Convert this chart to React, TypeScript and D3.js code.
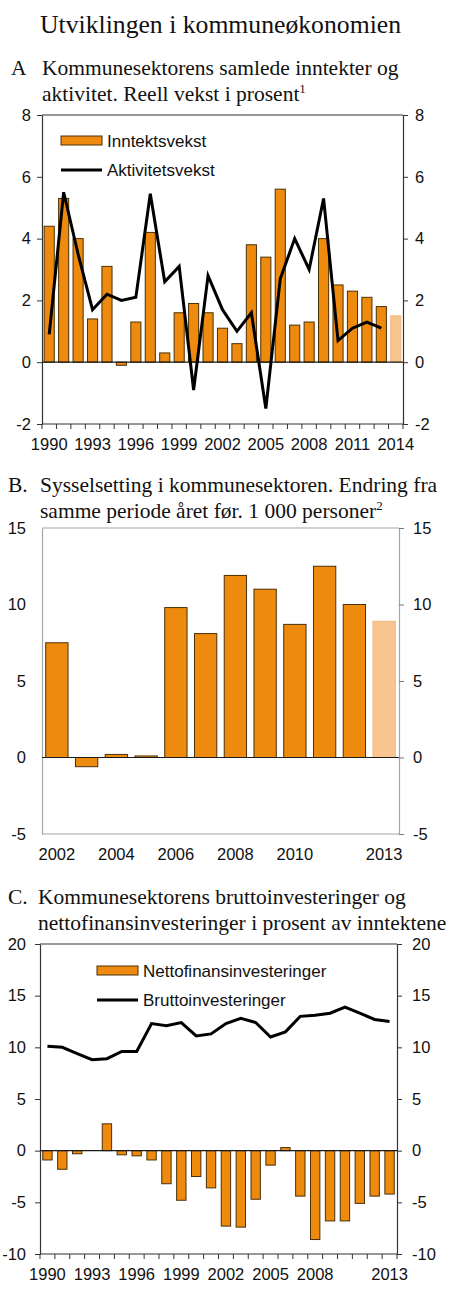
import { useEffect, useRef } from 'react'
import * as d3 from 'd3'

const SERIF = '"Liberation Serif", "Times New Roman", serif'
const SANS = '"Liberation Sans", Arial, sans-serif'
const ORANGE = '#ee8a0e'
const LIGHT = '#f8c48f'
const LIGHT_EDGE = '#f4b67a'
const EDGE = '#4a3108'
const AXIS = '#333333'
const GRAY = '#a6a6a6'

// A: income growth (bars) and activity growth (line), real growth in per cent
const yearsA = [1990, 1991, 1992, 1993, 1994, 1995, 1996, 1997, 1998, 1999, 2000, 2001, 2002,
  2003, 2004, 2005, 2006, 2007, 2008, 2009, 2010, 2011, 2012, 2013, 2014]
const incomeGrowth = [4.4, 5.3, 4.0, 1.4, 3.1, -0.1, 1.3, 4.2, 0.3, 1.6, 1.9, 1.6, 1.1,
  0.6, 3.8, 3.4, 5.6, 1.2, 1.3, 4.0, 2.5, 2.3, 2.1, 1.8, 1.5]
const activityYears = [1990, 1991, 1992, 1993, 1994, 1995, 1996, 1997, 1998, 1999, 2000, 2001,
  2002, 2003, 2004, 2005, 2006, 2007, 2008, 2009, 2010, 2011, 2012, 2013]
const activityGrowth = [0.9, 5.5, 3.5, 1.7, 2.2, 2.0, 2.1, 5.45, 2.6, 3.1, -0.9, 2.8,
  1.7, 1.0, 1.6, -1.5, 2.7, 4.0, 3.0, 5.3, 0.7, 1.1, 1.3, 1.1]
const yTicksA = [-2, 0, 2, 4, 6, 8]
const xLabelsA = [1990, 1993, 1996, 1999, 2002, 2005, 2008, 2011, 2014]

// B: employment change, 1 000 persons
const yearsB = [2002, 2003, 2004, 2005, 2006, 2007, 2008, 2009, 2010, 2011, 2012, 2013]
const employment = [7.5, -0.6, 0.2, 0.1, 9.8, 8.1, 11.9, 11.0, 8.7, 12.5, 10.0, 8.9]
const yTicksB = [-5, 0, 5, 10, 15]
const xLabelsB = [2002, 2004, 2006, 2008, 2010, 2013]

// C: gross investment (line) and net financial investment (bars), per cent of income
const yearsC = [1990, 1991, 1992, 1993, 1994, 1995, 1996, 1997, 1998, 1999, 2000, 2001,
  2002, 2003, 2004, 2005, 2006, 2007, 2008, 2009, 2010, 2011, 2012, 2013]
const netFinancial = [-0.9, -1.8, -0.3, 0, 2.6, -0.4, -0.5, -0.9, -3.2, -4.8, -2.5, -3.6,
  -7.3, -7.4, -4.7, -1.4, 0.3, -4.4, -8.6, -6.8, -6.8, -5.1, -4.4, -4.2]
const grossInvestment = [10.1, 10.0, 9.4, 8.8, 8.9, 9.6, 9.6, 12.3, 12.1, 12.4, 11.1, 11.3,
  12.3, 12.8, 12.4, 11.0, 11.5, 13.0, 13.1, 13.3, 13.9, 13.3, 12.7, 12.5]
const yTicksC = [-10, -5, 0, 5, 10, 15, 20]
const xLabelsC = [1990, 1993, 1996, 1999, 2002, 2005, 2008, 2013]

type Sel = d3.Selection<SVGGElement, unknown, null, undefined>

interface PanelSpec {
  years: number[]
  bars: number[]
  lineYears?: number[]
  line?: number[]
  domain: [number, number]
  yTicks: number[]
  xLabels: number[]
  left: number
  right: number
  top: number
  bottom: number
  padInner: number
  frame: string
  leftTick: number
  leftPad: number
  rightPad: number
  xTicks: boolean
  lightLast: boolean
}

function drawPanel(root: Sel, p: PanelSpec) {
  const g = root.append('g')
  const x = d3.scaleBand<number>()
    .domain(p.years)
    .range([p.left, p.right])
    .paddingInner(p.padInner)
    .paddingOuter(p.padInner / 2)
  const y = d3.scaleLinear().domain(p.domain).range([p.bottom, p.top])
  const last = p.years.length - 1

  g.selectAll('rect.bar')
    .data(p.years.map((yr, i) => ({ yr, v: p.bars[i], i })).filter((d) => d.v !== 0))
    .join('rect')
    .attr('class', 'bar')
    .attr('x', (d) => x(d.yr)!)
    .attr('width', x.bandwidth())
    .attr('y', (d) => y(Math.max(0, d.v)))
    .attr('height', (d) => Math.abs(y(d.v) - y(0)))
    .attr('fill', (d) => (p.lightLast && d.i === last ? LIGHT : ORANGE))
    .attr('stroke', (d) => (p.lightLast && d.i === last ? LIGHT_EDGE : EDGE))
    .attr('stroke-width', 1)

  // frame
  g.append('line')
    .attr('x1', p.left).attr('x2', p.right).attr('y1', p.top).attr('y2', p.top)
    .attr('stroke', p.frame).attr('stroke-width', 1.2)
  g.append('line')
    .attr('x1', p.left).attr('x2', p.right).attr('y1', p.bottom).attr('y2', p.bottom)
    .attr('stroke', p.frame).attr('stroke-width', 1.2)

  const fmt = (d: d3.NumberValue) => String(d)
  const left = g.append('g')
    .attr('transform', `translate(${p.left},0)`)
    .call(d3.axisLeft(y).tickValues(p.yTicks).tickFormat(fmt).tickSize(p.leftTick).tickPadding(p.leftPad).tickSizeOuter(0))
  const right = g.append('g')
    .attr('transform', `translate(${p.right},0)`)
    .call(d3.axisRight(y).tickValues(p.yTicks).tickFormat(fmt).tickSize(5).tickPadding(p.rightPad).tickSizeOuter(0))
  ;[left, right].forEach((ax) => {
    ax.attr('font-family', SANS).attr('font-size', 16.5)
    ax.select('.domain').attr('stroke', p.frame).attr('stroke-width', 1.2)
    ax.selectAll('.tick line').attr('stroke', p.frame === GRAY ? '#777' : AXIS)
    ax.selectAll('.tick text').attr('fill', '#111')
  })

  // zero line
  g.append('line')
    .attr('x1', p.left).attr('x2', p.right).attr('y1', y(0)).attr('y2', y(0))
    .attr('stroke', '#1a1a1a').attr('stroke-width', 1.2)

  if (p.xTicks) {
    const half = (x.step() * x.paddingInner()) / 2
    const edges = p.years.map((yr) => x(yr)! - half).concat([p.right])
    g.selectAll('line.xtick')
      .data(edges)
      .join('line')
      .attr('class', 'xtick')
      .attr('x1', (d) => d).attr('x2', (d) => d)
      .attr('y1', p.bottom).attr('y2', p.bottom + 5)
      .attr('stroke', AXIS).attr('stroke-width', 1)
  }

  g.selectAll('text.xlab')
    .data(p.xLabels)
    .join('text')
    .attr('class', 'xlab')
    .attr('x', (d) => x(d)! + x.bandwidth() / 2)
    .attr('y', p.bottom + 26)
    .attr('text-anchor', 'middle')
    .attr('font-family', SANS)
    .attr('font-size', 16.5)
    .attr('fill', '#111')
    .text((d) => String(d))

  if (p.line && p.lineYears) {
    const vals = p.line
    const path = d3.line<number>()
      .x((d) => x(d)! + x.bandwidth() / 2)
      .y((_, i) => y(vals[i]))
    g.append('path')
      .datum(p.lineYears)
      .attr('fill', 'none')
      .attr('stroke', '#000')
      .attr('stroke-width', 3)
      .attr('stroke-linejoin', 'miter')
      .attr('d', path)
  }
}

function legend(g: Sel, x: number, yBar: number, yLine: number, barText: string, lineText: string) {
  g.append('rect')
    .attr('x', x).attr('y', yBar - 4.5).attr('width', 41).attr('height', 9)
    .attr('fill', ORANGE).attr('stroke', EDGE).attr('stroke-width', 1)
  g.append('text')
    .attr('x', x + 46).attr('y', yBar + 6)
    .attr('font-family', SANS).attr('font-size', 17).attr('fill', '#111')
    .text(barText)
  g.append('line')
    .attr('x1', x).attr('x2', x + 41).attr('y1', yLine).attr('y2', yLine)
    .attr('stroke', '#000').attr('stroke-width', 3)
  g.append('text')
    .attr('x', x + 46).attr('y', yLine + 6)
    .attr('font-family', SANS).attr('font-size', 17).attr('fill', '#111')
    .text(lineText)
}

function title(g: Sel, letter: string, lx: number, tx: number, y: number, lines: string[], sup: string) {
  const fs = 21.5
  g.append('text')
    .attr('x', lx).attr('y', y)
    .attr('font-family', SERIF).attr('font-size', fs).attr('fill', '#111')
    .text(letter)
  lines.forEach((line, i) => {
    const t = g.append('text')
      .attr('x', tx).attr('y', y + i * 25.5)
      .attr('font-family', SERIF).attr('font-size', fs).attr('fill', '#111')
      .text(line)
    if (i === lines.length - 1 && sup) {
      t.append('tspan').attr('dy', -8).attr('font-size', 13).text(sup)
    }
  })
}

export default function App() {
  const svgRef = useRef<SVGSVGElement>(null)

  useEffect(() => {
    if (!svgRef.current) return
    const svg = d3.select(svgRef.current)
    svg.selectAll('*').remove()
    const g = svg.append('g') as unknown as Sel

    g.append('text')
      .attr('x', 40).attr('y', 33)
      .attr('font-family', SERIF).attr('font-size', 25.7).attr('fill', '#111')
      .text('Utviklingen i kommuneøkonomien')

    title(g, 'A', 11, 42, 75, ['Kommunesektorens samlede inntekter og', 'aktivitet. Reell vekst i prosent'], '1')
    drawPanel(g, {
      years: yearsA, bars: incomeGrowth, lineYears: activityYears, line: activityGrowth,
      domain: [-2, 8], yTicks: yTicksA, xLabels: xLabelsA,
      left: 42, right: 403, top: 115, bottom: 424, padInner: 0.3,
      frame: AXIS, leftTick: 5, leftPad: 6, rightPad: 7, xTicks: true, lightLast: true,
    })
    legend(g, 61, 140.5, 170, 'Inntektsvekst', 'Aktivitetsvekst')

    title(g, 'B.', 8, 40, 492, ['Sysselsetting i kommunesektoren. Endring fra', 'samme periode året før. 1 000 personer'], '2')
    drawPanel(g, {
      years: yearsB, bars: employment,
      domain: [-5, 15], yTicks: yTicksB, xLabels: xLabelsB,
      left: 42, right: 399, top: 528, bottom: 834, padInner: 0.25,
      frame: GRAY, leftTick: 0, leftPad: 16, rightPad: 9, xTicks: false, lightLast: true,
    })

    title(g, 'C.', 8, 38, 904, ['Kommunesektorens bruttoinvesteringer og', 'nettofinansinvesteringer i prosent av inntektene'], '')
    drawPanel(g, {
      years: yearsC, bars: netFinancial, lineYears: yearsC, line: grossInvestment,
      domain: [-10, 20], yTicks: yTicksC, xLabels: xLabelsC,
      left: 40, right: 397, top: 944, bottom: 1254, padInner: 0.37,
      frame: AXIS, leftTick: 5, leftPad: 9, rightPad: 10, xTicks: true, lightLast: false,
    })
    legend(g, 97, 970.5, 1000, 'Nettofinansinvesteringer', 'Bruttoinvesteringer')
  }, [])

  return (
    <svg
      ref={svgRef}
      width={450}
      height={1298}
      style={{ position: 'absolute', left: 0, top: 0, background: '#fff' }}
    />
  )
}
